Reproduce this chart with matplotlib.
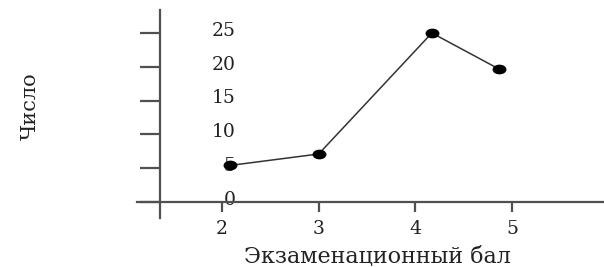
import matplotlib
matplotlib.use("Agg")
import matplotlib.pyplot as plt
from matplotlib.path import Path
from matplotlib.transforms import Affine2D, ScaledTranslation

# Data
scores = [2.08, 3.0, 4.17, 4.86]
counts = [5.4, 7.1, 25.0, 19.7]
y_ticks = [0, 5, 10, 15, 20, 25]
y_tick_labels = ["0", "5", "10", "15", "20", "25"]
x_ticks = [2, 3, 4, 5]
x_tick_labels = ["2", "3", "4", "5"]
x_title = "Экзаменационный бал"
y_title = "Число"

W, H = 604, 267
fig = plt.figure(figsize=(W / 100, H / 100), dpi=100)
left, right, top, bottom = 137, 604, 10, 218
ax = fig.add_axes([left / W, (H - bottom) / H, (right - left) / W, (bottom - top) / H])
ax.set_xlim(1.121, 5.95)
ax.set_ylim(-2.37, 28.4)

axis_col = "#505050"
for s in ["top", "right"]:
    ax.spines[s].set_visible(False)
ax.spines["left"].set_position(("data", 1.359))
ax.spines["bottom"].set_position(("data", 0))
for s in ["left", "bottom"]:
    ax.spines[s].set_color(axis_col)
    ax.spines[s].set_linewidth(1.6)

font = "DejaVu Serif"
ellipse = Path.unit_circle().transformed(Affine2D().scale(1.5, 1.0))
ax.plot(scores, counts, color="#333333", lw=1.1, marker=ellipse,
        markersize=9, markerfacecolor="black", markeredgecolor="black", zorder=3)

ax.set_yticks(y_ticks)
ax.set_yticklabels(y_tick_labels, fontsize=13.5, family=font, color="#222222")
ax.tick_params(axis="y", direction="out", length=14.4, width=1.6, color=axis_col,
               pad=-69)
for lab in ax.get_yticklabels():
    lab.set_transform(lab.get_transform() + ScaledTranslation(0, 3 / 72, fig.dpi_scale_trans))

ax.set_xticks(x_ticks)
ax.set_xticklabels(x_tick_labels, fontsize=13.5, family=font, color="#222222")
ax.tick_params(axis="x", direction="out", length=7.2, width=1.6, color=axis_col, pad=6)

ax.set_xlabel(x_title, fontsize=16, family=font, color="#222222", va="center")
ax.xaxis.set_label_coords((377 - left) / (right - left), (bottom - 257) / (bottom - top))
ax.set_ylabel(y_title, fontsize=15, family=font, color="#222222", va="center")
ax.yaxis.set_label_coords((30 - left) / (right - left), (bottom - 106) / (bottom - top))

fig.savefig("out.png", dpi=100)
